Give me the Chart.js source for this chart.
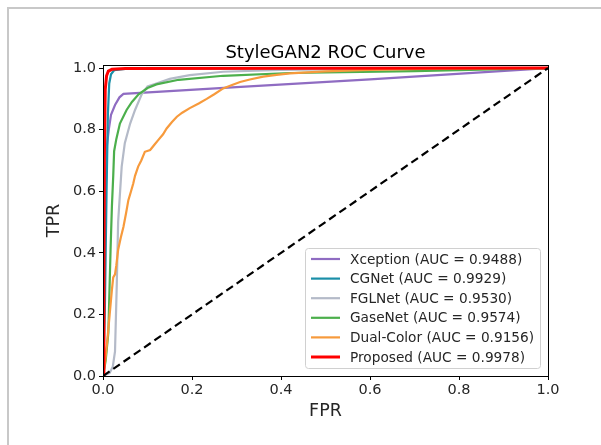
<!DOCTYPE html>
<html>
<head>
<meta charset="utf-8">
<script src="https://cdn.jsdelivr.net/npm/chart.js@4.4.1/dist/chart.umd.min.js"></script>
<style>
  body { margin: 0; background: #fff; }
  #wrap { position: relative; width: 601px; height: 445px; }
  #frame { position: absolute; left: 7px; top: 7px; right: 0; bottom: 0;
           border-left: 2px solid #c8c8c8; border-top: 2px solid #c8c8c8; pointer-events: none; }
  canvas { position: absolute; left: 0; top: 0; }
</style>
</head>
<body>
<div id="wrap">
  <canvas id="roc" width="601" height="445"></canvas>
  <div id="frame"></div>
</div>
<script>
// ROC curve points
const xceptionFpr = [0, 0.003, 0.006, 0.009, 0.013, 0.018, 0.027, 0.037, 0.046, 0.3, 0.6, 1];
const xceptionTpr = [0, 0.3, 0.6, 0.75, 0.8, 0.848, 0.88, 0.905, 0.916, 0.938, 0.963, 1];

const cgnetFpr = [0, 0.004, 0.008, 0.011, 0.014, 0.018, 0.025, 0.05, 0.2, 1];
const cgnetTpr = [0, 0.2, 0.6, 0.85, 0.95, 0.98, 0.993, 0.997, 0.999, 1];

const fglnetFpr = [0, 0.015, 0.022, 0.027, 0.031, 0.034, 0.038, 0.042, 0.049, 0.061, 0.072, 0.087, 0.1, 0.12, 0.15, 0.195, 0.27, 0.4, 0.6, 1];
const fglnetTpr = [0, 0.01, 0.03, 0.08, 0.3, 0.5, 0.59, 0.68, 0.756, 0.82, 0.864, 0.915, 0.94, 0.95, 0.965, 0.977, 0.988, 0.994, 0.997, 1];

const gasenetFpr = [0, 0.006, 0.012, 0.017, 0.02, 0.023, 0.025, 0.03, 0.038, 0.053, 0.065, 0.08, 0.1, 0.12, 0.17, 0.27, 0.42, 0.7, 1];
const gasenetTpr = [0, 0.05, 0.14, 0.41, 0.55, 0.65, 0.73, 0.77, 0.82, 0.864, 0.89, 0.915, 0.935, 0.947, 0.962, 0.975, 0.984, 0.99, 1];

const dualFpr = [0, 0.005, 0.01, 0.015, 0.02, 0.023, 0.027, 0.03, 0.034, 0.04, 0.046, 0.052, 0.057, 0.063, 0.068, 0.072, 0.079, 0.086, 0.094, 0.106, 0.115, 0.124, 0.135, 0.143, 0.155, 0.166, 0.178, 0.195, 0.215, 0.233, 0.25, 0.27, 0.29, 0.308, 0.33, 0.36, 0.39, 0.42, 0.5, 0.6, 0.75, 1];
const dualTpr = [0, 0.05, 0.12, 0.2, 0.28, 0.32, 0.33, 0.36, 0.41, 0.45, 0.485, 0.53, 0.571, 0.6, 0.625, 0.65, 0.68, 0.7, 0.728, 0.734, 0.75, 0.766, 0.785, 0.804, 0.825, 0.842, 0.855, 0.87, 0.885, 0.9, 0.915, 0.934, 0.945, 0.955, 0.963, 0.972, 0.978, 0.983, 0.989, 0.994, 0.998, 1];

const proposedFpr = [0, 0.002, 0.003, 0.005, 0.008, 0.012, 0.02, 0.05, 1];
const proposedTpr = [0, 0.3, 0.7, 0.93, 0.975, 0.99, 0.996, 0.999, 1];

const chanceFpr = [0, 1];
const chanceTpr = [0, 1];

const seriesNames = ['Xception (AUC = 0.9488)', 'CGNet (AUC = 0.9929)', 'FGLNet (AUC = 0.9530)',
                     'GaseNet (AUC = 0.9574)', 'Dual-Color (AUC = 0.9156)', 'Proposed (AUC = 0.9978)'];
const tickValues = [0, 0.2, 0.4, 0.6, 0.8, 1.0];
const tickLabels = ['0.0', '0.2', '0.4', '0.6', '0.8', '1.0'];

const colors = ['#8f6cc2', '#1a8fa8', '#b4bac8', '#4caf4c', '#f79a3c', '#ff0000'];
const widths = [2.2, 2.2, 2.2, 2.2, 2.2, 3];

const FONT = '"DejaVu Sans", sans-serif';

function pts(xs, ys) {
    return xs.map((x, i) => ({ x: x, y: ys[i] }));
}

const curves = [
    pts(xceptionFpr, xceptionTpr),
    pts(cgnetFpr, cgnetTpr),
    pts(fglnetFpr, fglnetTpr),
    pts(gasenetFpr, gasenetTpr),
    pts(dualFpr, dualTpr),
    pts(proposedFpr, proposedTpr)
];

const datasets = curves.map((data, i) => ({
    label: seriesNames[i],
    data: data,
    showLine: true,
    borderColor: colors[i],
    borderWidth: widths[i],
    pointRadius: 0,
    fill: false,
    order: 6 - i
}));
datasets.push({
    label: 'chance',
    data: pts(chanceFpr, chanceTpr),
    showLine: true,
    borderColor: '#000',
    borderWidth: 2.2,
    borderDash: [8, 4.5],
    pointRadius: 0,
    order: 0
});

// frame, title and the boxed legend inside the plot
const decorations = {
    id: 'decorations',
    afterDraw(chart) {
        const ctx = chart.ctx;
        const a = chart.chartArea;
        ctx.save();
        ctx.strokeStyle = '#000';
        ctx.lineWidth = 1;
        ctx.strokeRect(Math.round(a.left) + 0.5, Math.round(a.top) + 0.5,
                       Math.round(a.right - a.left), Math.round(a.bottom - a.top));

        ctx.fillStyle = '#000';
        ctx.font = '18px ' + FONT;
        ctx.textAlign = 'center';
        ctx.textBaseline = 'alphabetic';
        ctx.fillText('StyleGAN2 ROC Curve', (a.left + a.right) / 2, 58);

        // legend
        const w = 235, h = 120;
        const x0 = a.right - 8 - w, y0 = a.bottom - 8 - h;
        ctx.beginPath();
        ctx.roundRect(x0 + 0.5, y0 + 0.5, w, h, 3);
        ctx.fillStyle = 'rgba(255,255,255,0.8)';
        ctx.fill();
        ctx.strokeStyle = '#d0d0d0';
        ctx.stroke();
        ctx.font = '13.7px ' + FONT;
        ctx.textAlign = 'left';
        ctx.textBaseline = 'middle';
        seriesNames.forEach((name, i) => {
            const y = y0 + 11 + i * 19.6;
            ctx.strokeStyle = colors[i];
            ctx.lineWidth = widths[i];
            ctx.beginPath();
            ctx.moveTo(x0 + 6, y);
            ctx.lineTo(x0 + 35, y);
            ctx.stroke();
            ctx.fillStyle = '#262626';
            ctx.fillText(name, x0 + 45, y + 1);
        });
        ctx.restore();
    }
};

function fixedTicks(scale) {
    scale.ticks = tickValues.map(v => ({ value: v }));
}

new Chart(document.getElementById('roc').getContext('2d'), {
    type: 'scatter',
    data: { datasets: datasets },
    options: {
        responsive: false,
        animation: false,
        devicePixelRatio: 1,
        layout: { padding: { left: 0, right: 53, top: 65, bottom: 0 } },
        plugins: {
            legend: { display: false },
            title: { display: false },
            tooltip: { enabled: false }
        },
        scales: {
            x: {
                type: 'linear', min: 0, max: 1,
                afterBuildTicks: fixedTicks,
                afterFit: s => { s.height = 69; },
                grid: { drawOnChartArea: false, drawTicks: true, tickLength: 4, color: '#000', tickWidth: 1 },
                border: { display: false },
                ticks: {
                    padding: 2, color: '#262626', maxRotation: 0,
                    font: { family: FONT, size: 14.5 },
                    callback: (v, i) => tickLabels[i]
                },
                title: { display: true, text: 'FPR', color: '#262626',
                         font: { family: FONT, size: 17.5 }, padding: { top: 0, bottom: 23 } }
            },
            y: {
                type: 'linear', min: 0, max: 1.01,
                afterBuildTicks: fixedTicks,
                afterFit: s => { s.width = 103; },
                grid: { drawOnChartArea: false, drawTicks: true, tickLength: 4, color: '#000', tickWidth: 1 },
                border: { display: false },
                ticks: {
                    padding: 3, color: '#262626',
                    font: { family: FONT, size: 14.5 },
                    callback: (v, i) => tickLabels[i]
                },
                title: { display: true, text: 'TPR', color: '#262626',
                         font: { family: FONT, size: 17.5 }, padding: { top: 44, bottom: 0 } }
            }
        }
    },
    plugins: [decorations]
});
</script>
</body>
</html>
